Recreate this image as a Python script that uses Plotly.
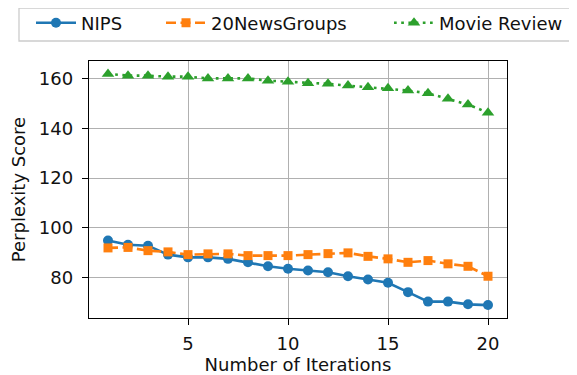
import plotly.graph_objects as go

iterations = list(range(1, 21))
nips = [94.9, 93.2, 92.8, 89.2, 88.1, 88.1, 87.5, 86.1, 84.5, 83.5,
        82.8, 82.1, 80.5, 79.2, 77.9, 74.1, 70.3, 70.3, 69.2, 68.9]
news20 = [91.9, 92.1, 90.8, 90.3, 89.2, 89.5, 89.5, 88.8, 88.8, 88.8,
          89.2, 89.6, 89.9, 88.5, 87.5, 86.1, 86.8, 85.5, 84.5, 80.5]
movie = [161.9, 161.2, 161.2, 160.8, 160.8, 160.1, 160.1, 160.1, 159.2, 158.8,
         158.1, 157.9, 157.2, 156.5, 156.1, 155.2, 154.1, 151.9, 149.6, 146.3]
series_names = ["NIPS", "20NewsGroups", "Movie Review"]
x_ticks = [5, 10, 15, 20]
y_ticks = [80, 100, 120, 140, 160]

# page body adds an 8px offset, so figure is laid out in shifted coordinates
W, H = 569, 367
ml, mr, mt, mb = 10, 1, 53, 57
plot_left, plot_right = 81, 499
gw = W - ml - mr
gh = H - mt - mb


def px_x(x):
    return (x - ml) / gw


def px_y(y):
    return (H - mb - y) / gh


font = "DejaVu Sans"
fs = 18
txt = "#111111"
colors = ["#1f77b4", "#ff7f0e", "#2ca02c"]
fig = go.Figure()
fig.add_trace(go.Scatter(x=iterations, y=nips, name=series_names[0], mode="lines+markers",
                         line=dict(color=colors[0], width=2.6),
                         marker=dict(symbol="circle", size=10, color=colors[0]),
                         legend="legend", showlegend=True))
fig.add_trace(go.Scatter(x=iterations, y=news20, name=series_names[1], mode="lines+markers",
                         line=dict(color=colors[1], width=2.6, dash="10px,4.5px"),
                         marker=dict(symbol="square", size=9, color=colors[1]),
                         legend="legend2", showlegend=True))
fig.add_trace(go.Scatter(x=iterations, y=movie, name=series_names[2], mode="lines+markers",
                         line=dict(color=colors[2], width=2.6, dash="2.7px,4.5px"),
                         marker=dict(symbol="triangle-up", size=11, color=colors[2]),
                         legend="legend3", showlegend=True))

axis_common = dict(showline=True, linecolor="black", linewidth=1.4, mirror=True,
                   ticks="outside", ticklen=6, tickwidth=1.4, tickcolor="black",
                   showgrid=True, gridcolor="#b0b0b0", gridwidth=1.3, zeroline=False,
                   automargin=False,
                   tickfont=dict(family=font, size=fs, color=txt),
                   title_font=dict(family=font, size=fs, color=txt))
fig.update_xaxes(range=[0.05, 20.95], tickvals=x_ticks,
                 domain=[px_x(plot_left), px_x(plot_right)], ticklabelstandoff=3,
                 title_text="Number of Iterations", title_standoff=6, **axis_common)
fig.update_yaxes(range=[63.7, 167.1], tickvals=y_ticks, ticklabelstandoff=5,
                 title_text="Perplexity Score", title_standoff=9, **axis_common)

leg_common = dict(orientation="h", yanchor="middle", y=px_y(15), xanchor="left",
                  bgcolor="rgba(0,0,0,0)", borderwidth=0,
                  font=dict(family=font, size=fs, color=txt), itemwidth=40)
fig.add_shape(type="rect", xref="paper", yref="paper",
              x0=px_x(11), x1=px_x(567.5), y0=px_y(33), y1=px_y(0),
              line=dict(color="#cccccc", width=1.3), fillcolor="white", layer="below")

fig.update_layout(
    width=W, height=H,
    showlegend=True,
    margin=dict(l=ml, r=mr, t=mt, b=mb, autoexpand=False),
    plot_bgcolor="white", paper_bgcolor="white",
    font=dict(family=font, size=fs, color=txt),
    legend=dict(x=px_x(23), **leg_common),
    legend2=dict(x=px_x(153), **leg_common),
    legend3=dict(x=px_x(381), **leg_common),
)
fig.write_html("out.html")
